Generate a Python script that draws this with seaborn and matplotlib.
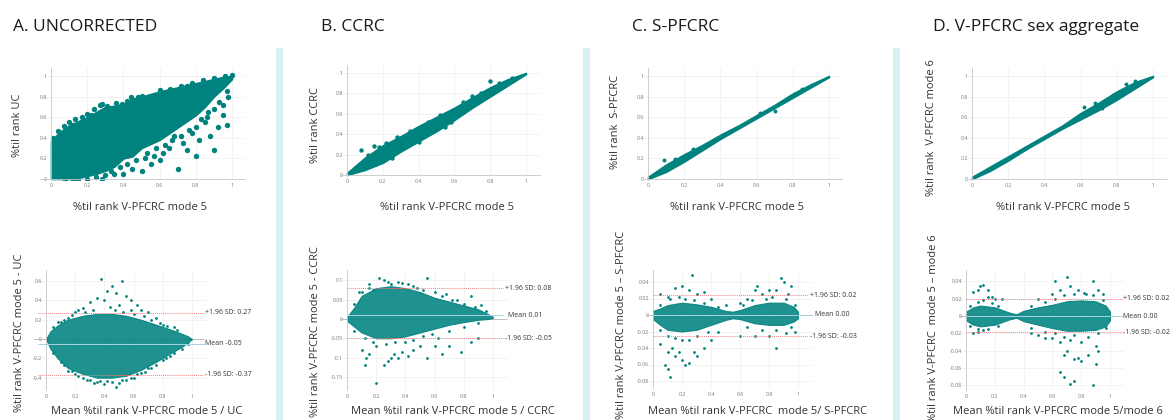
"""Rank agreement panels: scatter vs V-PFCRC mode 5 plus Bland-Altman plots"""
import matplotlib

matplotlib.use("Agg")
import seaborn as sns
from matplotlib import pyplot as plt
from matplotlib.patches import Rectangle

W, H = 1174, 420
TEAL = "#00827f"

TITLES = ["A. UNCORRECTED", "B. CCRC", "C. S-PFCRC", "D. V-PFCRC sex aggregate"]
TOP_YLABELS = ["%til rank UC", "%til rank CCRC", "%til rank  S-PFCRC", "%til rank  V-PFCRC mode 6"]
TOP_XLABEL = "%til rank V-PFCRC mode 5"
BOT_XLABELS = [
    "Mean %til rank V-PFCRC mode 5 / UC",
    "Mean %til rank V-PFCRC mode 5 / CCRC",
    "Mean %til rank V-PFCRC  mode 5/ S-PFCRC",
    "Mean %til rank V-PFCRC mode 5/mode 6",
]
BOT_YLABELS = [
    "%til rank V-PFCRC mode 5 - UC",
    "%til rank V-PFCRC mode 5 - CCRC",
    "%til rank V-PFCRC mode 5 \u2013 S-PFCRC",
    "%til rank V-PFCRC  mode 5 \u2013 mode 6",
]

UNIT_TICKS = [0, 0.2, 0.4, 0.6, 0.8, 1]
UNIT_LABELS = ["0", "0.2", "0.4", "0.6", "0.8", "1"]

# --- top row: dense band (x, lower, upper) plus scattered points ---
TA_X = [0, 0.05, 0.1, 0.15, 0.2, 0.25, 0.3, 0.35, 0.4, 0.45, 0.5, 0.6, 0.7, 0.8, 0.85, 0.9, 0.95, 1.0]
TA_UP = [0.37, 0.46, 0.52, 0.56, 0.6, 0.65, 0.7, 0.71, 0.73, 0.78, 0.8, 0.85, 0.89, 0.93, 0.95, 0.97, 0.99, 1.0]
TA_LO = [0.0, 0.0, 0.0, 0.01, 0.03, 0.05, 0.08, 0.12, 0.2, 0.22, 0.3, 0.38, 0.5, 0.62, 0.7, 0.8, 0.88, 0.97]
TA_PX = [0.55, 0.6, 0.62, 0.65, 0.7, 0.73, 0.75, 0.78, 0.8, 0.82, 0.85, 0.88, 0.9, 0.92, 0.95, 0.97,
         0.45, 0.5, 0.4, 0.52, 0.58, 0.68, 0.86, 0.95, 0.35, 0.15, 0.08, 0.6, 0.7, 0.98,
         0.02, 0.12, 0.22, 0.27, 0.33, 0.42, 0.48, 0.56, 0.65, 0.75]
TA_PY = [0.15, 0.18, 0.25, 0.3, 0.1, 0.35, 0.28, 0.45, 0.22, 0.38, 0.55, 0.42, 0.28, 0.5, 0.62, 0.52,
         0.1, 0.08, 0.05, 0.2, 0.3, 0.42, 0.6, 0.72, 0.05, 0.0, 0.0, 0.55, 0.6, 0.8,
         0.38, 0.52, 0.62, 0.72, 0.67, 0.76, 0.8, 0.8, 0.85, 0.9]
TA_EX = [0.01, 0.04, 0.07, 0.1, 0.13, 0.17, 0.2, 0.24, 0.28, 0.31, 0.36, 0.39, 0.44, 0.5, 0.54, 0.6,
         0.66, 0.72, 0.78, 0.84, 0.9, 0.96, 1.0, 0.25, 0.3, 0.33, 0.38, 0.42, 0.47, 0.53, 0.57, 0.63,
         0.67, 0.72, 0.76, 0.8, 0.83, 0.87, 0.9, 0.93, 0.97, 0.2, 0.28, 0.12]
TA_EY = [0.4, 0.47, 0.51, 0.55, 0.58, 0.6, 0.63, 0.68, 0.73, 0.71, 0.74, 0.73, 0.8, 0.81, 0.8, 0.86,
         0.87, 0.9, 0.93, 0.96, 0.98, 1.0, 1.01, 0.02, 0.04, 0.08, 0.12, 0.15, 0.18, 0.25, 0.22, 0.33,
         0.38, 0.42, 0.48, 0.5, 0.58, 0.65, 0.68, 0.75, 0.85, 0.0, 0.0, -0.005]

TB_X = [0, 0.1, 0.2, 0.3, 0.4, 0.5, 0.6, 0.7, 0.8, 0.9, 1.0]
TB_UP = [0.02, 0.17, 0.29, 0.38, 0.48, 0.57, 0.66, 0.76, 0.86, 0.94, 1.0]
TB_LO = [0.0, 0.05, 0.12, 0.23, 0.33, 0.43, 0.54, 0.66, 0.77, 0.88, 0.99]
TB_PX = [0.08, 0.15, 0.58, 0.45, 0.8, 0.75, 0.65, 0.12, 0.18, 0.22, 0.28, 0.35, 0.52, 0.7, 0.85,
         0.92, 0.25, 0.4, 0.55]
TB_PY = [0.25, 0.28, 0.52, 0.52, 0.92, 0.8, 0.72, 0.2, 0.27, 0.31, 0.37, 0.43, 0.59, 0.77, 0.9,
         0.95, 0.17, 0.32, 0.47]

TC_X = [0, 0.1, 0.2, 0.3, 0.4, 0.5, 0.6, 0.7, 0.8, 0.9, 1.0]
TC_UP = [0.02, 0.14, 0.24, 0.33, 0.43, 0.52, 0.62, 0.72, 0.83, 0.92, 1.0]
TC_LO = [0.0, 0.07, 0.17, 0.28, 0.39, 0.49, 0.59, 0.69, 0.79, 0.89, 0.99]
TC_PX = [0.09, 0.85, 0.7, 0.15, 0.25, 0.62]
TC_PY = [0.18, 0.87, 0.66, 0.19, 0.29, 0.64]

TD_X = [0, 0.1, 0.2, 0.3, 0.4, 0.5, 0.6, 0.7, 0.8, 0.9, 1.0]
TD_UP = [0.02, 0.12, 0.22, 0.32, 0.42, 0.52, 0.64, 0.74, 0.85, 0.94, 1.0]
TD_LO = [0.0, 0.08, 0.18, 0.29, 0.39, 0.49, 0.58, 0.67, 0.77, 0.88, 0.99]
TD_PX = [0.62, 0.78, 0.85, 0.68, 0.9, 0.72]
TD_PY = [0.7, 0.82, 0.92, 0.74, 0.95, 0.69]

# --- bottom row: Bland-Altman core (x, lower, upper) plus scattered points ---
BA_X = [0, 0.03, 0.08, 0.15, 0.25, 0.35, 0.45, 0.55, 0.65, 0.75, 0.85, 0.92, 0.97, 1.0]
BA_UP = [0.0, 0.08, 0.14, 0.2, 0.24, 0.26, 0.26, 0.24, 0.2, 0.15, 0.1, 0.06, 0.03, 0.0]
BA_LO = [0.0, -0.1, -0.2, -0.3, -0.36, -0.4, -0.4, -0.38, -0.32, -0.24, -0.15, -0.09, -0.04, 0.0]
BA_PX = [0.38, 0.52, 0.45, 0.42, 0.48, 0.55, 0.35, 0.3, 0.58, 0.62, 0.25, 0.4, 0.5, 0.65, 0.7, 0.2,
         0.75, 0.33, 0.4, 0.45, 0.5, 0.55, 0.28, 0.6, 0.62, 0.22, 0.48, 0.37, 0.68, 0.72, 0.8, 0.85,
         0.18, 0.12, 0.8, 0.88, 0.15, 0.1, 0.58, 0.44,
         0.05, 0.08, 0.12, 0.18, 0.22, 0.27, 0.32, 0.47, 0.53, 0.6, 0.67, 0.72, 0.78, 0.83, 0.9,
         0.05, 0.1, 0.15, 0.2, 0.25, 0.3, 0.35, 0.42, 0.52, 0.58, 0.65, 0.7, 0.75, 0.82, 0.88, 0.93, 0.97]
BA_PY = [0.62, 0.6, 0.55, 0.5, 0.48, 0.45, 0.42, 0.38, 0.4, 0.35, 0.32, 0.4, 0.35, 0.3, 0.28, 0.28,
         0.22, -0.45, -0.47, -0.44, -0.46, -0.42, -0.42, -0.4, -0.36, -0.38, -0.5, -0.43, -0.34, -0.3,
         -0.22, -0.18, -0.33, -0.27, 0.15, 0.12, 0.22, 0.18, 0.3, 0.33,
         0.12, 0.18, 0.2, 0.25, 0.3, 0.28, 0.3, 0.3, 0.28, 0.26, 0.24, 0.2, 0.17, 0.13, 0.09,
         -0.14, -0.24, -0.33, -0.36, -0.4, -0.42, -0.44, -0.43, -0.42, -0.4, -0.35, -0.3, -0.27, -0.2,
         -0.14, -0.1, -0.05]

BB_X = [0, 0.05, 0.1, 0.2, 0.3, 0.4, 0.5, 0.6, 0.7, 0.8, 0.9, 0.97, 1.0]
BB_UP = [0.005, 0.03, 0.06, 0.08, 0.085, 0.08, 0.07, 0.055, 0.045, 0.035, 0.025, 0.012, 0.005]
BB_LO = [-0.005, -0.02, -0.035, -0.05, -0.05, -0.045, -0.035, -0.025, -0.015, -0.008, -0.002, 0.0, 0.003]
BB_PX = [0.12, 0.13, 0.1, 0.15, 0.2, 0.25, 0.28, 0.3, 0.32, 0.35, 0.38, 0.42, 0.45, 0.55, 0.6, 0.65,
         0.7, 0.78, 0.85, 0.9, 0.5, 0.2, 0.25, 0.22, 0.35, 0.38, 0.42, 0.55, 0.45, 0.3, 0.6, 0.68,
         0.85, 0.92, 0.08, 0.15, 0.18, 0.75, 0.62, 0.4,
         0.05, 0.1, 0.15, 0.28, 0.48, 0.52, 0.65, 0.72, 0.8, 0.88, 0.95,
         0.05, 0.12, 0.18, 0.27, 0.33, 0.45, 0.52, 0.58, 0.7, 0.8, 0.9]
BB_PY = [-0.12, -0.1, -0.08, -0.09, -0.165, -0.12, -0.11, -0.1, -0.09, -0.1, -0.085, -0.095, -0.08,
         -0.1, -0.07, -0.09, -0.07, -0.085, -0.06, -0.05, -0.07, -0.07, 0.1, 0.105, 0.095, 0.092, 0.09,
         0.105, 0.085, 0.09, 0.07, 0.065, 0.06, 0.035, 0.07, 0.09, 0.075, 0.05, -0.05, -0.06,
         0.04, 0.07, 0.08, 0.095, 0.08, 0.075, 0.06, 0.05, 0.04, 0.03, 0.02,
         -0.03, -0.05, -0.06, -0.065, -0.06, -0.055, -0.045, -0.04, -0.03, -0.02, -0.01]

BC_X = [0, 0.05, 0.1, 0.2, 0.3, 0.4, 0.5, 0.55, 0.6, 0.7, 0.8, 0.9, 0.97, 1.0]
BC_UP = [0.005, 0.008, 0.012, 0.015, 0.013, 0.01, 0.005, 0.004, 0.006, 0.012, 0.015, 0.015, 0.01, 0.004]
BC_LO = [-0.005, -0.012, -0.018, -0.02, -0.018, -0.012, -0.006, -0.004, -0.005, -0.01, -0.012, -0.012,
         -0.008, -0.004]
BC_PX = [0.08, 0.1, 0.12, 0.15, 0.2, 0.22, 0.25, 0.28, 0.3, 0.35, 0.18, 0.13, 0.1, 0.4, 0.05, 0.27,
         0.2, 0.15, 0.25, 0.3, 0.35, 0.1, 0.05, 0.4, 0.7, 0.72, 0.8, 0.85, 0.88, 0.9, 0.95, 0.75,
         0.65, 0.93, 0.85, 0.6, 0.7, 0.8, 0.92, 0.98, 0.45, 0.5, 0.6,
         0.05, 0.12, 0.18, 0.22, 0.28, 0.35, 0.45, 0.62, 0.68, 0.78, 0.82, 0.92, 0.98,
         0.05, 0.1, 0.15, 0.2, 0.25, 0.3, 0.38, 0.65, 0.75, 0.85, 0.95]
BC_PY = [-0.06, -0.065, -0.075, -0.05, -0.055, -0.06, -0.058, -0.045, -0.05, -0.04, -0.045, -0.04,
         -0.045, -0.03, -0.035, 0.048, 0.035, 0.033, 0.03, 0.025, 0.028, 0.022, 0.025, 0.02, 0.03,
         0.035, 0.03, 0.03, 0.045, 0.04, 0.035, 0.025, 0.02, 0.025, -0.04, -0.025, -0.025, -0.025,
         -0.022, -0.02, -0.02, 0.012, 0.015,
         0.012, 0.02, 0.022, 0.02, 0.018, 0.015, 0.01, 0.012, 0.018, 0.02, 0.022, 0.02, 0.012,
         -0.018, -0.025, -0.028, -0.03, -0.03, -0.025, -0.02, -0.015, -0.018, -0.018, -0.015]

BD_X = [0, 0.05, 0.1, 0.2, 0.3, 0.35, 0.4, 0.5, 0.6, 0.7, 0.8, 0.9, 0.97, 1.0]
BD_UP = [0.005, 0.01, 0.012, 0.01, 0.004, 0.002, 0.006, 0.01, 0.013, 0.017, 0.018, 0.017, 0.012, 0.005]
BD_LO = [-0.005, -0.01, -0.012, -0.01, -0.004, -0.002, -0.006, -0.01, -0.014, -0.017, -0.017, -0.016,
         -0.012, -0.005]
BD_PX = [0.1, 0.12, 0.08, 0.15, 0.05, 0.18, 0.2, 0.25, 0.15, 0.05, 0.08, 0.12, 0.62, 0.7, 0.72, 0.78,
         0.88, 0.92, 0.65, 0.6, 0.83, 0.95, 0.5, 0.65, 0.68, 0.72, 0.75, 0.88, 0.68, 0.7, 0.75, 0.78,
         0.8, 0.85, 0.9, 0.92, 0.9, 0.6, 0.55, 0.5, 0.45, 0.65, 0.8, 0.72,
         0.03, 0.08, 0.12, 0.18, 0.22, 0.45, 0.55, 0.62, 0.68, 0.75, 0.82, 0.88, 0.95,
         0.03, 0.08, 0.15, 0.22, 0.45, 0.55, 0.62, 0.68, 0.75, 0.85, 0.92, 0.97]
BD_PY = [0.035, 0.036, 0.03, 0.03, 0.028, 0.022, 0.02, 0.02, 0.022, -0.02, -0.018, -0.016, 0.04, 0.045,
         0.035, 0.03, 0.04, 0.03, 0.03, 0.025, 0.025, 0.025, 0.02, -0.065, -0.07, -0.078, -0.075, -0.08,
         -0.045, -0.04, -0.05, -0.048, -0.052, -0.045, -0.055, -0.04, -0.035, -0.025, -0.025, -0.022,
         -0.02, -0.03, -0.03, -0.028,
         0.012, 0.016, 0.018, 0.015, 0.012, 0.012, 0.016, 0.02, 0.024, 0.025, 0.026, 0.024, 0.018,
         -0.012, -0.015, -0.015, -0.012, -0.014, -0.018, -0.02, -0.024, -0.022, -0.024, -0.02, -0.014]

# Bland-Altman reference lines: mean, upper and lower limits of agreement
BA_MEANS = [-0.05, 0.01, 0.0, 0.0]
BA_UPPER = [0.27, 0.08, 0.024, 0.02]
BA_LOWER = [-0.37, -0.05, -0.026, -0.019]
BA_MEAN_TXT = ["Mean -0.05", "Mean 0.01", "Mean 0.00", "Mean 0.00"]
BA_UPPER_TXT = ["+1.96 SD: 0.27", "+1.96 SD: 0.08", "+1.96 SD: 0.02", "+1.96 SD: 0.02"]
BA_LOWER_TXT = ["-1.96 SD: -0.37", "-1.96 SD: -0.05", "-1.96 SD: -0.03", "-1.96 SD: -0.02"]

BOT_YTICKS = [
    [-0.4, -0.2, 0, 0.2, 0.4, 0.6],
    [-0.15, -0.1, -0.05, 0, 0.05, 0.1],
    [-0.08, -0.06, -0.04, -0.02, 0, 0.02, 0.04],
    [-0.08, -0.06, -0.04, -0.02, 0, 0.02, 0.04],
]
BOT_YTICKLABELS = [
    ["-0.4", "-0.2", "0", "0.2", "0.4", "0.6"],
    ["-0.15", "-0.1", "-0.05", "0", "0.05", "0.1"],
    ["-0.08", "-0.06", "-0.04", "-0.02", "0", "0.02", "0.04"],
    ["-0.08", "-0.06", "-0.04", "-0.02", "0", "0.02", "0.04"],
]


def add_axes(fig, px0, px1, py_a, va, py_b, vb, xlim, ylim):
    """Axes placed so that data x=0/1 and y=va/vb land on given pixels"""
    sx = px1 - px0
    left = px0 + xlim[0] * sx
    right = px0 + xlim[1] * sx
    sy = (py_a - py_b) / (vb - va)
    y0 = py_a + va * sy
    top = y0 - ylim[1] * sy
    bottom = y0 - ylim[0] * sy
    ax = fig.add_axes([left / W, 1 - bottom / H, (right - left) / W, (bottom - top) / H])
    ax.set(xlim=xlim, ylim=ylim)
    return ax


def style_axes(ax, zero_bottom):
    ax.grid(True, color="#eeeeee", lw=0.5)
    ax.set_axisbelow(True)
    for side in ("top", "right"):
        ax.spines[side].set_visible(False)
    ax.spines["left"].set_position(("data", 0))
    ax.spines["left"].set_color("#c8c8c8")
    ax.spines["left"].set_linewidth(0.6)
    if zero_bottom:
        ax.spines["bottom"].set_position(("data", 0))
        ax.spines["bottom"].set_color("#c8c8c8")
        ax.spines["bottom"].set_linewidth(0.6)
    else:
        ax.spines["bottom"].set_visible(False)
    ax.tick_params(length=0, labelsize=3.8, labelcolor="#777777", pad=3)


def label(ax, text, axis, px, py, **kw):
    kw.setdefault("fontsize", 8)
    if axis == "x":
        ax.set_xlabel(text, va="center", color="#333333", **kw)
        ax.xaxis.set_label_coords(px / W, 1 - py / H, transform=ax.figure.transFigure)
    else:
        ax.set_ylabel(text, va="center", color="#333333", **kw)
        ax.yaxis.set_label_coords(px / W, 1 - py / H, transform=ax.figure.transFigure)


sns.set_theme(style="white")
plt.rcParams["font.family"] = ["Open Sans", "DejaVu Sans"]

fig = plt.figure(figsize=(W / 100, H / 100), dpi=100)

# light blue separators between panels
for x0, x1 in [(276, 283), (583, 590), (893, 900)]:
    fig.patches.append(Rectangle((x0 / W, 0), (x1 - x0) / W, 1 - 48 / H,
                                 transform=fig.transFigure, color="#d9f0f3", lw=0))

title_x = [13, 321, 632, 933]
for tx, t in zip(title_x, TITLES):
    fig.text(tx / W, 1 - 27 / H, t, fontsize=12.5, va="center", ha="left", color="#1a1a1a")

# ---- top row ----
top_geo = [
    (51, 232, 179, 76, (-0.06, 1.07)),
    (347, 526, 175, 73, (-0.04, 1.08)),
    (648, 829, 179, 76, (-0.03, 1.07)),
    (972, 1153, 179, 76, (-0.03, 1.08)),
]
top_data = [
    (TA_X, TA_LO, TA_UP, TA_PX + TA_EX, TA_PY + TA_EY, 15),
    (TB_X, TB_LO, TB_UP, TB_PX, TB_PY, 10),
    (TC_X, TC_LO, TC_UP, TC_PX, TC_PY, 8),
    (TD_X, TD_LO, TD_UP, TD_PX, TD_PY, 8),
]
top_xl = [140, 447, 737, 1063]
top_yl = [(18, 125), (315, 125), (615, 122), (932, 128)]

for i, ((px0, px1, py0, py1, xlim), (bx, lo, up, sx, sy, ms)) in enumerate(zip(top_geo, top_data)):
    ax = add_axes(fig, px0, px1, py0, 0, py1, 1, xlim, (-0.01, 1.08))
    style_axes(ax, zero_bottom=True)
    ax.fill_between(bx, lo, up, color=TEAL, lw=1.2, edgecolor=TEAL)
    sns.scatterplot(x=sx, y=sy, ax=ax, color=TEAL, s=ms, linewidth=0)
    ax.set_xticks(UNIT_TICKS, UNIT_LABELS)
    ax.set_yticks(UNIT_TICKS, UNIT_LABELS)
    label(ax, TOP_XLABEL, "x", top_xl[i], 207)
    label(ax, TOP_YLABELS[i], "y", *top_yl[i])

# ---- bottom row ----
bot_geo = [
    (46, 192, 339, 0, 281, 0.6, (-0.08, 1.1), (-0.527, 0.71)),
    (347, 493, 319, 0, 280.4, 0.1, (-0.05, 1.1), (-0.184, 0.127)),
    (653, 798, 315, 0, 282, 0.04, (-0.05, 1.1), (-0.0885, 0.0545)),
    (966, 1110, 316, 0, 281.3, 0.04, (-0.05, 1.1), (-0.085, 0.053)),
]
bot_data = [
    (BA_X, BA_LO, BA_UP, BA_PX, BA_PY),
    (BB_X, BB_LO, BB_UP, BB_PX, BB_PY),
    (BC_X, BC_LO, BC_UP, BC_PX, BC_PY),
    (BD_X, BD_LO, BD_UP, BD_PX, BD_PY),
]
line_span = [(-0.055, 1.08), (0.0, 1.07), (0.0, 1.07), (0.0, 1.08)]
text_x = [1.09, 1.08, 1.08, 1.09]
mean_x = [1.09, 1.1, 1.12, 1.09]
bot_xl = [147, 453, 757, 1058]
bot_yl = [(20, 333), (315, 332), (622, 325), (933, 328)]

for i, (geo, (bx, lo, up, sx, sy)) in enumerate(zip(bot_geo, bot_data)):
    px0, px1, pya, va, pyb, vb, xlim, ylim = geo
    ax = add_axes(fig, px0, px1, pya, va, pyb, vb, xlim, ylim)
    style_axes(ax, zero_bottom=False)
    ax.axhline(0, xmin=0, xmax=(mean_x[i] - 0.01 - xlim[0]) / (xlim[1] - xlim[0]),
               color="#b5b5b5", lw=0.6, zorder=1)
    ax.fill_between(bx, lo, up, color=TEAL, alpha=0.88, lw=0.8, edgecolor=TEAL, zorder=2)
    sns.scatterplot(x=sx, y=sy, ax=ax, color=TEAL, s=4, linewidth=0, zorder=3)
    x_lo, x_hi = line_span[i]
    ax.hlines([BA_UPPER[i], BA_LOWER[i]], x_lo, x_hi, colors="#f08080", lw=0.7,
              linestyles=(0, (1, 1)), zorder=4)
    ax.hlines(BA_MEANS[i], x_lo, x_hi, colors="#a8d3e6", lw=0.7, zorder=4)
    ax.text(text_x[i], BA_UPPER[i], BA_UPPER_TXT[i], fontsize=5, va="center", ha="left",
            color="#333333", clip_on=False)
    ax.text(mean_x[i], BA_MEANS[i], BA_MEAN_TXT[i], fontsize=5, va="center", ha="left",
            color="#333333", clip_on=False)
    ax.text(text_x[i], BA_LOWER[i], BA_LOWER_TXT[i], fontsize=5, va="center", ha="left",
            color="#333333", clip_on=False)
    ax.set_xticks(UNIT_TICKS, UNIT_LABELS)
    ax.set_yticks(BOT_YTICKS[i], BOT_YTICKLABELS[i])
    label(ax, BOT_XLABELS[i], "x", bot_xl[i], 412)
    label(ax, BOT_YLABELS[i], "y", *bot_yl[i])

fig.savefig("out.png", dpi=100)
